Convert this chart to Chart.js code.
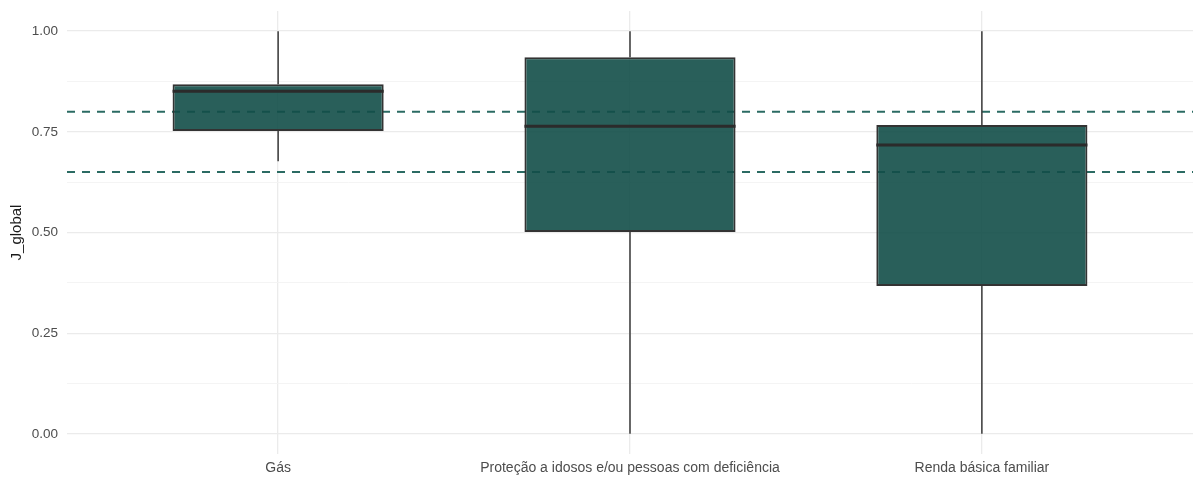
<!DOCTYPE html>
<html>
<head>
<meta charset="utf-8">
<title>J_global por benefício</title>
<script src="https://cdn.jsdelivr.net/npm/chart.js@4.4.1/dist/chart.umd.min.js"></script>
<style>
  html, body { margin: 0; padding: 0; background: #ffffff; }
  #wrap { width: 1193px; height: 477px; }
</style>
</head>
<body>
<div id="wrap"><canvas id="chart" width="1193" height="477"></canvas></div>
<script>
// Benefícios (eixo x)
const categories = ['Gás', 'Proteção a idosos e/ou pessoas com deficiência', 'Renda básica familiar'];

// Estatísticas do boxplot de J_global por benefício
const whiskerLow  = [0.677, 0.000, 0.000];
const q1          = [0.752, 0.501, 0.367];
const medians     = [0.851, 0.764, 0.717];
const q3          = [0.868, 0.935, 0.767];
const whiskerHigh = [1.000, 1.000, 1.000];

// Linhas de referência tracejadas
const referenceLines = [0.80, 0.65];

// Rótulos do eixo y
const yTickLabels = ['0.00', '0.25', '0.50', '0.75', '1.00'];

const BOX_WIDTH = 0.6;          // largura da caixa em unidades de categoria
const HALF = BOX_WIDTH / 2;
const FILL = 'rgba(18, 78, 72, 0.9)';
const OUTLINE = '#333333';
const DASH_COLOR = '#2b6b63';

const xPos = categories.map((_, i) => i + 1);

// Caixas: barras flutuantes de Q1 a Q3
const boxData = xPos.map((x, i) => ({ x: x, y: [q1[i], q3[i]] }));

// Bigodes: segmentos verticais separados por lacunas
const whiskerData = [];
xPos.forEach((x, i) => {
  whiskerData.push({ x: x, y: q3[i] }, { x: x, y: whiskerHigh[i] }, { x: x, y: null });
  whiskerData.push({ x: x, y: q1[i] }, { x: x, y: whiskerLow[i] }, { x: x, y: null });
});

// Medianas: segmentos horizontais na largura da caixa
const medianData = [];
xPos.forEach((x, i) => {
  medianData.push({ x: x - HALF, y: medians[i] }, { x: x + HALF, y: medians[i] }, { x: x, y: null });
});

const X_MIN = 0.4, X_MAX = categories.length + 0.6;
const refDatasets = referenceLines.map(v => ({
  type: 'line',
  data: [{ x: X_MIN, y: v }, { x: X_MAX, y: v }],
  borderColor: DASH_COLOR,
  borderWidth: 2,
  borderDash: [8, 7],
  pointRadius: 0,
  order: 4
}));

const majorTickValues = yTickLabels.map(Number);
const isMajor = v => majorTickValues.some(m => Math.abs(m - v) < 1e-9);

new Chart(document.getElementById('chart'), {
  type: 'bar',
  data: {
    datasets: [
      ...refDatasets,
      {
        type: 'line',
        data: whiskerData,
        borderColor: '#3a3a3a',
        borderWidth: 1.5,
        pointRadius: 0,
        spanGaps: false,
        order: 3
      },
      {
        type: 'bar',
        data: boxData,
        backgroundColor: FILL,
        borderColor: OUTLINE,
        borderWidth: 2,
        borderSkipped: false,
        categoryPercentage: 1,
        barPercentage: BOX_WIDTH,
        order: 2
      },
      {
        type: 'line',
        data: medianData,
        borderColor: '#2b2b2b',
        borderWidth: 3,
        pointRadius: 0,
        spanGaps: false,
        order: 1
      }
    ]
  },
  options: {
    responsive: false,
    animation: false,
    events: [],
    layout: { padding: { top: 11, right: 0, bottom: 0, left: 0 } },
    plugins: { legend: { display: false }, tooltip: { enabled: false } },
    scales: {
      x: {
        type: 'linear',
        min: X_MIN,
        max: X_MAX,
        offset: false,
        afterBuildTicks: scale => { scale.ticks = xPos.map(v => ({ value: v })); },
        afterFit: scale => {
          scale.height = 23;
          scale.paddingLeft = 0;
          scale.paddingRight = 0;
        },
        border: { display: false },
        grid: { offset: false, color: '#ebebeb', lineWidth: 1.3, drawTicks: false },
        ticks: {
          padding: 6,
          autoSkip: false,
          maxRotation: 0,
          color: '#4d4d4d',
          font: { family: '"Liberation Sans", Arial, sans-serif', size: 14 },
          callback: v => categories[Math.round(v) - 1] || ''
        }
      },
      y: {
        type: 'linear',
        min: -0.05,
        max: 1.05,
        afterBuildTicks: scale => {
          const t = [];
          for (let k = 0; k <= 8; k++) t.push({ value: k * 0.125 });
          scale.ticks = t;
        },
        afterFit: scale => {
          scale.width = 67;
          scale.paddingTop = 0;
          scale.paddingBottom = 0;
        },
        border: { display: false },
        grid: {
          drawTicks: false,
          color: ctx => (ctx.tick && isMajor(ctx.tick.value)) ? '#ebebeb' : '#f3f3f3',
          lineWidth: ctx => (ctx.tick && isMajor(ctx.tick.value)) ? 1.3 : 0.9
        },
        ticks: {
          padding: 9,
          autoSkip: false,
          color: '#4d4d4d',
          font: { family: '"Liberation Sans", Arial, sans-serif', size: 13.5 },
          callback: v => {
            const idx = majorTickValues.findIndex(m => Math.abs(m - v) < 1e-9);
            return idx >= 0 ? yTickLabels[idx] : '';
          }
        },
        title: {
          display: true,
          text: 'J_global',
          color: '#1a1a1a',
          font: { family: '"Liberation Sans", Arial, sans-serif', size: 15 },
          padding: { top: 8, bottom: 0 }
        }
      }
    }
  }
});
</script>
</body>
</html>
